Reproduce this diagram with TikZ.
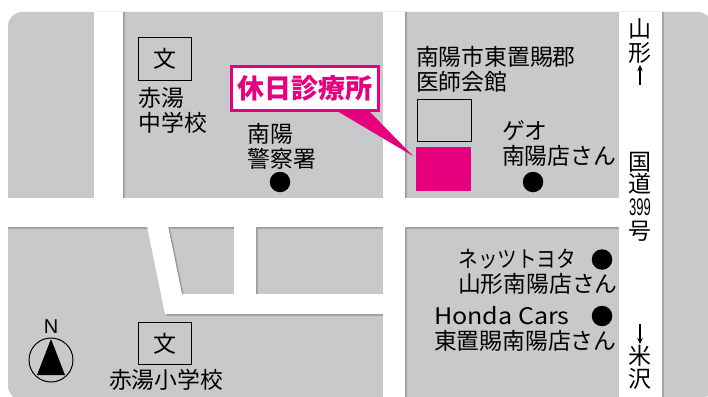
\documentclass[tikz,border=0pt]{standalone}
\usepackage{fontspec}
\setmainfont{Noto Sans CJK JP}
\newfontfamily\jp{Noto Sans CJK JP}
\newfontfamily\lat{Liberation Sans}
\definecolor{blockgray}{HTML}{C8C9CB}
\definecolor{mag}{HTML}{E6007E}
\usetikzlibrary{arrows.meta}
\tikzset{
  txt/.style={inner sep=0pt,outer sep=0pt,anchor=west,font=\jp\fontsize{22.8}{22.8}\selectfont,text=black},
  vtxt/.style={inner sep=0pt,outer sep=0pt,anchor=center,font=\jp\fontsize{23}{23}\selectfont,text=black},
  bldg/.style={draw=black,line width=1pt,inner sep=0pt,outer sep=0pt},
  dot/.style={circle,fill=black,minimum size=20.5pt,inner sep=0pt,outer sep=0pt},
  arrowline/.style={line width=1.1pt,-{Stealth[length=6pt,width=5.5pt]}}
}
\newcommand{\roadpath}{
  (94,0) rectangle (123,199)
  (383,0) rectangle (405,400)
  (619,0) rectangle (662,400)
  (0,198) rectangle (619,227)
  (234,226) rectangle (256,295)
  (147,226) -- (165,314) -- (384,314) -- (384,294) -- (182,294) -- (168,226) -- cycle
}
\begin{document}
\begin{tikzpicture}[x=1pt,y=-1pt]
\clip (0,0) rectangle (708,396);
\fill[white] (0,0) rectangle (708,396);
\fill[blockgray] (680,300) rectangle (708,396);
\begin{scope}
  \clip[rounded corners=14pt] (8,12) rectangle (712,400);
  \fill[blockgray] (0,0) rectangle (720,400);
  \fill[black,opacity=.13,shift={(2.2,2.2)}] \roadpath;
  \fill[black,opacity=.18,shift={(1.2,1.2)}] \roadpath;
  \fill[white] \roadpath;
\end{scope}
% buildings
\node[bldg,minimum width=53pt,minimum height=42pt] (school1) at (164.5,59) {};
\node[vtxt] (bun1) at (164.5,59) {文};
\node[bldg,minimum width=53pt,minimum height=42pt] (school2) at (164.5,343.5) {};
\node[vtxt] (bun2) at (164.5,343.5) {文};
\node[bldg,minimum width=54pt,minimum height=42pt] (hall) at (444,120) {};
\node[fill=mag,minimum width=55pt,minimum height=44pt,inner sep=0pt,outer sep=0pt] (clinic) at (443.5,169) {};
% pointer and label
\node[draw=mag,line width=3pt,fill=white,minimum width=147pt,minimum height=44pt,inner sep=0pt,outer sep=0pt] (label) at (305,88.5) {};
\coordinate (tip) at (413,156);
\fill[mag] (337,111) -- (tip) -- (369,111) -- cycle;
\node[inner sep=0pt,font=\jp\bfseries\fontsize{27}{27}\selectfont,text=mag] (labeltxt) at (305,88.5) {休日診療所};
% labels
\node[txt] (a1) at (138.5,98) {赤湯};
\node[txt] (a2) at (138.5,123) {中学校};
\node[txt] (b1) at (247.5,134) {南陽};
\node[txt] (b2) at (247.5,159) {警察署};
\node[txt] (c1) at (416,57) {南陽市東置賜郡};
\node[txt] (c2) at (416,82) {医師会館};
\node[txt] (d1) at (502,131) {ゲオ};
\node[txt] (d2) at (502,156) {南陽店さん};
\node[txt] (e1) at (458.5,259) {\scalebox{.86}[1]{ネッツトヨタ}};
\node[txt] (e2) at (458,284) {山形南陽店さん};
\node[txt] (f1) at (434,316) {\scalebox{1.1}[1]{Honda Cars}};
\node[txt] (f2) at (434,341) {東置賜南陽店さん};
\node[txt] (g1) at (109,380) {赤湯小学校};
% dots
\node[dot] (p1) at (280,182) {};
\node[dot] (p2) at (533,182) {};
\node[dot] (p3) at (602,259.5) {};
\node[dot] (p4) at (602,316) {};
% road text
\node[vtxt] (r1) at (640,29) {山};
\node[vtxt] (r2) at (640,53) {形};
\coordinate (u1) at (640,85);
\coordinate (u2) at (640,65);
\draw[arrowline] (u1) -- (u2);
\node[vtxt] (r3) at (640,162) {国};
\node[vtxt] (r4) at (640,184) {道};
\node[inner sep=0pt,outer sep=0pt] (r5) at (640,207) {\scalebox{.54}[1]{\lat\fontsize{24}{24}\selectfont 399}};
\node[vtxt] (r6) at (640,231) {号};
\coordinate (d3) at (640,324);
\coordinate (d4) at (640,344);
\draw[arrowline] (d3) -- (d4);
\node[vtxt] (r7) at (640,356) {米};
\node[vtxt] (r8) at (640,379) {沢};
% compass
\node[circle,draw=black,line width=1pt,minimum size=44pt,inner sep=0pt,outer sep=0pt] (comp) at (51,360) {};
\fill[black] (51,339) -- (65,375) -- (37,375) -- cycle;
\node[inner sep=0pt,font=\lat\fontsize{20}{20}\selectfont] (north) at (51,327) {N};
\end{tikzpicture}
\end{document}
